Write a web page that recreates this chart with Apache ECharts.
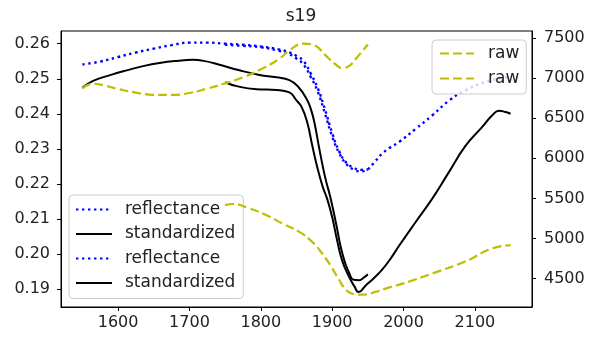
<!DOCTYPE html>
<html>
<head>
<meta charset="utf-8">
<script src="https://cdn.jsdelivr.net/npm/echarts@6/dist/echarts.min.js"></script>
<style>
  html, body { margin: 0; padding: 0; background: #fff; }
  #chart { width: 590px; height: 337px; }
</style>
</head>
<body>
<div id="chart"></div>
<script>
// wavelength (nm) and values
const reflWl1 = [1550, 1575, 1600, 1625, 1650, 1675, 1700, 1725, 1750, 1775, 1800, 1825, 1840, 1850, 1860, 1870, 1880, 1890, 1900, 1910, 1920, 1930, 1940, 1950];
const refl1 = [0.2541, 0.2549, 0.2562, 0.2575, 0.2586, 0.2596, 0.2603, 0.2603, 0.2600, 0.2597, 0.2592, 0.2584, 0.2575, 0.2565, 0.2550, 0.2515, 0.2472, 0.2412, 0.2345, 0.2292, 0.2260, 0.2246, 0.2240, 0.2241];
const reflWl2 = [1750, 1775, 1800, 1825, 1840, 1850, 1860, 1870, 1880, 1890, 1900, 1910, 1920, 1930, 1940, 1950, 1960, 1970, 1980, 1994, 2017, 2040, 2064, 2087, 2115, 2150];
const refl2 = [0.2597, 0.2594, 0.2590, 0.2580, 0.2570, 0.2558, 0.2540, 0.2505, 0.2462, 0.2400, 0.2335, 0.2287, 0.2256, 0.2241, 0.2236, 0.2242, 0.2264, 0.2286, 0.2302, 0.2320, 0.2357, 0.2395, 0.2438, 0.2467, 0.2491, 0.2506];

const stdWl1 = [1550, 1565, 1590, 1612, 1635, 1658, 1682, 1705, 1720, 1742, 1770, 1798, 1822, 1840, 1852, 1864, 1870, 1875, 1882, 1890, 1898, 1906, 1912, 1918, 1924, 1930, 1938, 1944, 1950];
const std1 = [0.2474, 0.2494, 0.2511, 0.2524, 0.2536, 0.2545, 0.2551, 0.2554, 0.2551, 0.2540, 0.2524, 0.2511, 0.2504, 0.2496, 0.2478, 0.2443, 0.2414, 0.2376, 0.2300, 0.2220, 0.2157, 0.2081, 0.2020, 0.1975, 0.1945, 0.1926, 0.1925, 0.1932, 0.1942];
const stdWl2 = [1750, 1766, 1794, 1822, 1840, 1850, 1857, 1865, 1872, 1880, 1887, 1893, 1900, 1907, 1914, 1924, 1931, 1937, 1947, 1958, 1970, 1982, 1994, 2017, 2040, 2064, 2087, 2110, 2124, 2134, 2143, 2150];
const std2 = [0.2490, 0.2479, 0.2470, 0.2468, 0.2461, 0.2438, 0.2420, 0.2376, 0.2310, 0.2240, 0.2190, 0.2157, 0.2105, 0.2038, 0.1981, 0.1933, 0.1908, 0.1891, 0.1910, 0.1930, 0.1955, 0.1987, 0.2024, 0.2091, 0.2157, 0.2235, 0.2309, 0.2362, 0.2395, 0.2409, 0.2405, 0.2400];

const rawWl1 = [1550, 1565, 1580, 1600, 1625, 1650, 1675, 1700, 1725, 1750, 1775, 1800, 1825, 1840, 1860, 1875, 1890, 1905, 1915, 1925, 1935, 1950];
const raw1 = [6870, 6930, 6910, 6865, 6820, 6792, 6790, 6815, 6870, 6935, 7010, 7110, 7235, 7345, 7430, 7410, 7290, 7170, 7125, 7160, 7260, 7420];
const rawWl2 = [1750, 1761, 1784, 1808, 1830, 1854, 1872, 1886, 1900, 1910, 1920, 1931, 1942, 1961, 1980, 2000, 2040, 2087, 2124, 2150];
const raw2 = [5416, 5430, 5375, 5291, 5187, 5082, 4957, 4812, 4629, 4479, 4354, 4304, 4300, 4333, 4390, 4440, 4562, 4715, 4875, 4916];

const xTicks = [1600, 1700, 1800, 1900, 2000, 2100];
const leftTicks = [0.19, 0.20, 0.21, 0.22, 0.23, 0.24, 0.25, 0.26];
const rightTicks = [4500, 5000, 5500, 6000, 6500, 7000, 7500];

const pairs = (xs, ys) => xs.map((x, i) => [x, ys[i]]);
const FONT = "DejaVu Sans";
const TXT = "#222";

const reflStyle = { color: "#0000ff", width: 2.4, type: [2.4, 3.6] };
const stdStyle = { color: "#000000", width: 2 };
const rawStyle = { color: "#bfbf00", width: 2.2, type: [9, 4] };

function line(name, data, style, yIdx, z) {
  return {
    name, type: "line", data, yAxisIndex: yIdx, z,
    showSymbol: false, symbol: "none", smooth: 0.5,
    lineStyle: style, itemStyle: { color: style.color },
    emphasis: { disabled: true }, animation: false
  };
}

const legendText = { fontFamily: FONT, fontSize: 17, color: TXT };

const chart = echarts.init(document.getElementById("chart"), null, { renderer: "canvas" });
chart.setOption({
  backgroundColor: "#fff",
  animation: false,
  title: {
    text: "s19", left: 296, top: 3, textAlign: "center",
    textStyle: { fontFamily: FONT, fontSize: 17, fontWeight: "normal", color: TXT }
  },
  grid: { left: 61, right: 58, top: 31, bottom: 30, show: true, borderColor: "#000", borderWidth: 1 },
  xAxis: {
    type: "value", min: 1520, max: 2180,
    axisLine: { show: true, lineStyle: { color: "#000" } },
    axisTick: { show: true, length: 4, customValues: xTicks, lineStyle: { color: "#000" } },
    axisLabel: { customValues: xTicks, margin: 8, fontFamily: FONT, fontSize: 16, color: TXT, formatter: v => String(v) },
    splitLine: { show: false }
  },
  yAxis: [
    {
      type: "value", min: 0.18485, max: 0.26363, position: "left",
      axisLine: { show: true, lineStyle: { color: "#000" } },
      axisTick: { show: true, length: 4, customValues: leftTicks, lineStyle: { color: "#000" } },
      axisLabel: { customValues: leftTicks, margin: 11, fontFamily: FONT, fontSize: 16, color: TXT, formatter: v => v.toFixed(2) },
      splitLine: { show: false }
    },
    {
      type: "value", min: 4145, max: 7588, position: "right",
      axisLine: { show: true, lineStyle: { color: "#000" } },
      axisTick: { show: true, length: 4, customValues: rightTicks, lineStyle: { color: "#000" } },
      axisLabel: { customValues: rightTicks, margin: 12, fontFamily: FONT, fontSize: 16, color: TXT, formatter: v => String(Math.round(v)) },
      splitLine: { show: false }
    }
  ],
  legend: [
    {
      data: ["reflectance_1", "standardized_1", "reflectance_2", "standardized_2"],
      orient: "vertical", left: 69, top: 195, z: 1,
      itemWidth: 36, itemHeight: 14, itemGap: 7.5,
      padding: [6, 8, 7, 6],
      itemStyle: { opacity: 0 },
      backgroundColor: "rgba(255,255,255,0.8)", borderColor: "#ccc", borderWidth: 1, borderRadius: 4,
      formatter: n => n.split("_")[0],
      textStyle: Object.assign({ padding: [0, 0, 0, 8] }, legendText),
      selectedMode: false
    },
    {
      data: ["raw_1", "raw_2"],
      orient: "vertical", left: 432, top: 40, z: 5,
      itemWidth: 34, itemHeight: 14, itemGap: 8,
      padding: [5, 7, 7, 7],
      itemStyle: { opacity: 0 },
      backgroundColor: "rgba(255,255,255,0.8)", borderColor: "#ccc", borderWidth: 1, borderRadius: 4,
      formatter: n => n.split("_")[0],
      textStyle: Object.assign({ padding: [0, 0, 0, 9] }, legendText),
      selectedMode: false
    }
  ],
  series: [
    line("reflectance_1", pairs(reflWl1, refl1), reflStyle, 0, 2),
    line("standardized_1", pairs(stdWl1, std1), stdStyle, 0, 2),
    line("reflectance_2", pairs(reflWl2, refl2), reflStyle, 0, 2),
    line("standardized_2", pairs(stdWl2, std2), stdStyle, 0, 2),
    line("raw_1", pairs(rawWl1, raw1), rawStyle, 1, 3),
    line("raw_2", pairs(rawWl2, raw2), rawStyle, 1, 3)
  ]
});
</script>
</body>
</html>
